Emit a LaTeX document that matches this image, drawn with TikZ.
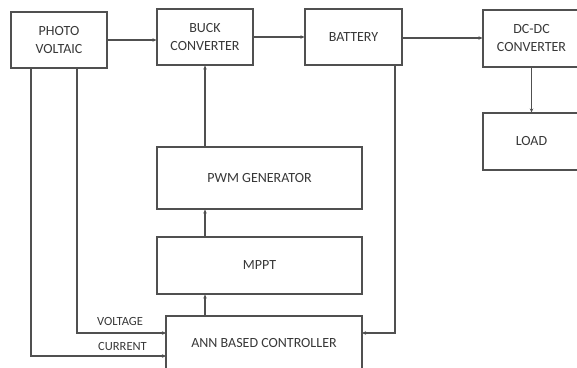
\documentclass[tikz,border=0pt]{standalone}
\usepackage{fontspec}
\setmainfont{Carlito}
\usetikzlibrary{arrows.meta}
\definecolor{linec}{HTML}{505050}
\definecolor{textc}{HTML}{383838}
\tikzset{
  blk/.style={draw=linec, line width=1.1pt, fill=white, text=textc, align=center,
    inner sep=0pt, font=\fontsize{14}{18}\selectfont},
  conn/.style={draw=linec, line width=1.1pt, -{Stealth[length=4pt,width=3.5pt]}},
  wire/.style={draw=linec, line width=1.1pt},
  lbl/.style={text=textc, font=\fontsize{12.5}{14}\selectfont, inner sep=0pt}
}
\begin{document}
\begin{tikzpicture}[x=1pt,y=-1pt]
\useasboundingbox (0,0) rectangle (577,367);
\begin{scope}
\clip (0,0) rectangle (577,367);
\node[blk, minimum width=96pt, minimum height=56pt] (pv) at (59,40) {PHOTO\\VOLTAIC};
\node[blk, minimum width=96pt, minimum height=56pt] (buck) at (205,37) {BUCK\\CONVERTER};
\node[blk, minimum width=97pt, minimum height=56pt] (bat) at (353.5,37) {BATTERY};
\node[blk, minimum width=97pt, minimum height=57pt] (dcdc) at (531.5,38.5) {DC-DC\\CONVERTER};
\node[blk, minimum width=97pt, minimum height=57pt] (load) at (531.5,141.5) {LOAD};
\node[blk, minimum width=205pt, minimum height=62pt] (pwm) at (259.5,178) {PWM GENERATOR};
\node[blk, minimum width=205pt, minimum height=57pt] (mppt) at (259.5,265.5) {MPPT};
\node[blk, minimum width=196pt, minimum height=54pt] (ann) at (264,343) {ANN BASED CONTROLLER};

\coordinate (pvA) at (31,68);
\coordinate (pvB) at (77,68);
\coordinate (batD) at (395,65);
\coordinate (annV) at (166,333);
\coordinate (annC) at (166,356);
\coordinate (annB) at (362,333);

\draw[conn] (pv.east |- 0,40) -- (buck.west |- 0,40);
\draw[conn] (buck.east) -- (bat.west);
\draw[conn] (bat.east |- 0,38) -- (dcdc.west |- 0,38);
\draw[conn] (dcdc.south) -- (load.north);
\draw[conn] (buck.south |- pwm.north) -- (buck.south);
\draw[conn] (buck.south |- mppt.north) -- (buck.south |- pwm.south);
\draw[conn] (buck.south |- ann.north) -- (buck.south |- mppt.south);
\draw[conn] (pvB) |- (annV);
\draw[conn] (pvA) |- (annC);
\draw[conn] (batD) |- (annB);
\node[lbl] (vlab) at (120,321) {VOLTAGE};
\node[lbl] (clab) at (122.5,346.5) {CURRENT};
\end{scope}
\end{tikzpicture}
\end{document}
